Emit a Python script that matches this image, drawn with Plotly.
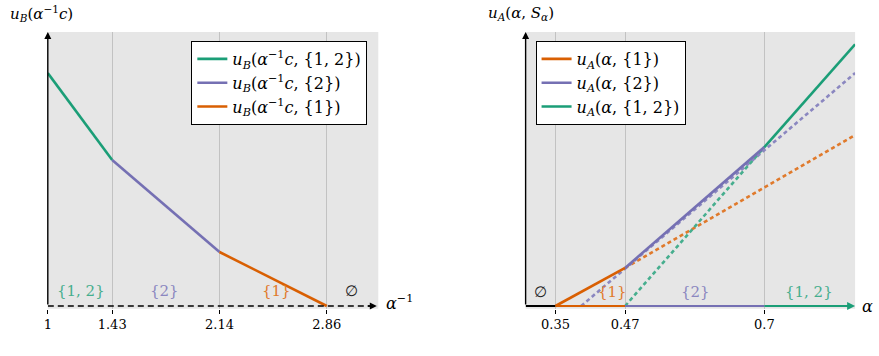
import plotly.graph_objects as go

# ---------------- data ----------------
# Left panel: u_B as a function of alpha^{-1}
left_ticks = [1.0, 1.4286, 2.1429, 2.8571]
left_ticktext = ["1", "1.43", "2.14", "2.86"]
uB12_x = [1.0, 1.4286]
uB12_y = [0.850, 0.533]
uB2_x = [1.4286, 2.1429]
uB2_y = [0.533, 0.197]
uB1_x = [2.1429, 2.8571]
uB1_y = [0.197, 0.0]
left_regions = ["{1, 2}", "{2}", "{1}", "∅"]
left_region_x = [1.22, 1.78, 2.52, 3.02]

# Right panel: u_A as a function of alpha
right_ticks = [0.35, 0.4667, 0.7]
right_ticktext = ["0.35", "0.47", "0.7"]
uA1_solid_x = [0.35, 0.4667]
uA1_solid_y = [0.0, 0.139]
uA1_dash_x = [0.4667, 0.852]
uA1_dash_y = [0.139, 0.624]
uA2_solid_x = [0.4667, 0.7]
uA2_solid_y = [0.139, 0.580]
uA2_dash_x = [0.393, 0.852]
uA2_dash_y = [0.0, 0.850]
uA12_solid_x = [0.7, 0.852]
uA12_solid_y = [0.580, 0.955]
uA12_dash_x = [0.4667, 0.7]
uA12_dash_y = [0.0, 0.580]
right_regions = ["∅", "{1}", "{2}", "{1, 2}"]
right_region_x = [0.325, 0.445, 0.585, 0.775]
# ---------------------------------------

GREEN = "#1b9e77"
PURPLE = "#7570b3"
ORANGE = "#d95f02"
GREEN_T = "#46ae8e"
PURPLE_T = "#8b87c0"
ORANGE_T = "#e07a2c"
FONT = "DejaVu Serif, Liberation Serif, serif"

W, H = 879, 356
def px_x(p):
    return p / W
def px_y(p):
    return (H - p) / H

YMIN = -0.01
fig = go.Figure()

lw = 2.6
# ---- left traces ----
fig.add_trace(go.Scatter(x=uB12_x, y=uB12_y, mode="lines", line=dict(color=GREEN, width=lw),
                         name="<i>u<sub>B</sub></i>(<i>α</i><sup>−1</sup><i>c</i>, {1, 2})",
                         xaxis="x", yaxis="y", legend="legend"))
fig.add_trace(go.Scatter(x=uB2_x, y=uB2_y, mode="lines", line=dict(color=PURPLE, width=lw),
                         name="<i>u<sub>B</sub></i>(<i>α</i><sup>−1</sup><i>c</i>, {2})",
                         xaxis="x", yaxis="y", legend="legend"))
fig.add_trace(go.Scatter(x=uB1_x, y=uB1_y, mode="lines", line=dict(color=ORANGE, width=lw),
                         name="<i>u<sub>B</sub></i>(<i>α</i><sup>−1</sup><i>c</i>, {1})",
                         xaxis="x", yaxis="y", legend="legend"))
# dashed x axis (left)
fig.add_trace(go.Scatter(x=[1.0, 3.17], y=[0, 0], mode="lines",
                         line=dict(color="black", width=1.4, dash="6px,4px"),
                         showlegend=False, hoverinfo="skip", xaxis="x", yaxis="y"))

# ---- right traces ----
dash = "4px,3px"
fig.add_trace(go.Scatter(x=uA1_dash_x, y=uA1_dash_y, mode="lines",
                         line=dict(color=ORANGE_T, width=lw, dash=dash),
                         showlegend=False, xaxis="x2", yaxis="y2"))
fig.add_trace(go.Scatter(x=uA2_dash_x, y=uA2_dash_y, mode="lines",
                         line=dict(color=PURPLE_T, width=lw, dash=dash),
                         showlegend=False, xaxis="x2", yaxis="y2"))
fig.add_trace(go.Scatter(x=uA12_dash_x, y=uA12_dash_y, mode="lines",
                         line=dict(color=GREEN_T, width=lw, dash=dash),
                         showlegend=False, xaxis="x2", yaxis="y2"))
fig.add_trace(go.Scatter(x=uA1_solid_x, y=uA1_solid_y, mode="lines", line=dict(color=ORANGE, width=lw),
                         name="<i>u<sub>A</sub></i>(<i>α</i>, {1})",
                         xaxis="x2", yaxis="y2", legend="legend2"))
fig.add_trace(go.Scatter(x=uA2_solid_x, y=uA2_solid_y, mode="lines", line=dict(color=PURPLE, width=lw),
                         name="<i>u<sub>A</sub></i>(<i>α</i>, {2})",
                         xaxis="x2", yaxis="y2", legend="legend2"))
fig.add_trace(go.Scatter(x=uA12_solid_x, y=uA12_solid_y, mode="lines", line=dict(color=GREEN, width=lw),
                         name="<i>u<sub>A</sub></i>(<i>α</i>, {1, 2})",
                         xaxis="x2", yaxis="y2", legend="legend2"))
# colored x axis (right)
axis_segments = [([0.30, 0.35], "black"), ([0.35, 0.4667], ORANGE),
                 ([0.4667, 0.7], PURPLE), ([0.7, 0.848], GREEN)]
for xs, c in axis_segments:
    fig.add_trace(go.Scatter(x=xs, y=[0, 0], mode="lines", line=dict(color=c, width=2.2),
                             showlegend=False, hoverinfo="skip", xaxis="x2", yaxis="y2"))

# ---- annotations ----
ann = []
# y axis arrows
ann.append(dict(x=1.0, y=1.0, ax=1.0, ay=0.0, xref="x", yref="y", axref="x", ayref="y",
                showarrow=True, arrowhead=2, arrowsize=1, arrowwidth=1.4, arrowcolor="black", text=""))
ann.append(dict(x=0.30, y=1.0, ax=0.30, ay=0.0, xref="x2", yref="y2", axref="x2", ayref="y2",
                showarrow=True, arrowhead=2, arrowsize=1, arrowwidth=1.4, arrowcolor="black", text=""))
# x axis arrowheads
ann.append(dict(x=3.19, y=0, ax=3.12, ay=0, xref="x", yref="y", axref="x", ayref="y",
                showarrow=True, arrowhead=2, arrowsize=1, arrowwidth=1.4, arrowcolor="black", text=""))
ann.append(dict(x=0.852, y=0, ax=0.83, ay=0, xref="x2", yref="y2", axref="x2", ayref="y2",
                showarrow=True, arrowhead=2, arrowsize=1, arrowwidth=1.6, arrowcolor=GREEN, text=""))
# axis labels
ann.append(dict(x=px_x(382), y=px_y(302), xref="paper", yref="paper", xanchor="left", yanchor="middle",
                text="<i>α</i><sup>−1</sup>", showarrow=False, font=dict(family=FONT, size=16, color="black")))
ann.append(dict(x=px_x(860), y=px_y(306), xref="paper", yref="paper", xanchor="left", yanchor="middle",
                text="<i>α</i>", showarrow=False, font=dict(family=FONT, size=16, color="black")))
ann.append(dict(x=px_x(4), y=px_y(14), xref="paper", yref="paper", xanchor="left", yanchor="middle",
                text="<i>u<sub>B</sub></i>(<i>α</i><sup>−1</sup><i>c</i>)", showarrow=False,
                font=dict(family=FONT, size=15, color="black")))
ann.append(dict(x=px_x(484), y=px_y(14), xref="paper", yref="paper", xanchor="left", yanchor="middle",
                text="<i>u<sub>A</sub></i>(<i>α</i>, <i>S<sub>α</sub></i>)", showarrow=False,
                font=dict(family=FONT, size=15, color="black")))
# region labels
left_cols = [GREEN_T, PURPLE_T, ORANGE_T, "#222222"]
for t, x, c in zip(left_regions, left_region_x, left_cols):
    ann.append(dict(x=x, y=0.055, xref="x", yref="y", text=t, showarrow=False,
                    font=dict(family=FONT, size=15, color=c)))
right_cols = ["#222222", ORANGE_T, PURPLE_T, GREEN_T]
for t, x, c in zip(right_regions, right_region_x, right_cols):
    ann.append(dict(x=x, y=0.05, xref="x2", yref="y2", text=t, showarrow=False,
                    font=dict(family=FONT, size=15, color=c)))

y_dom = [px_y(306 + 274 * 0.01), px_y(32)]
axis_common = dict(showline=False, zeroline=False, ticks="outside", ticklen=4, tickwidth=1,
                   tickcolor="black", showgrid=True, gridcolor="#c2c2c2", gridwidth=1,
                   tickfont=dict(family=FONT, size=13, color="black"))
fig.update_layout(
    width=W, height=H, margin=dict(l=0, r=0, t=0, b=0),
    paper_bgcolor="white", plot_bgcolor="#e6e6e6",
    xaxis=dict(domain=[px_x(44), px_x(376)], range=[1.0, 3.2], tickvals=left_ticks,
               ticktext=left_ticktext, anchor="y", **axis_common),
    yaxis=dict(domain=y_dom, range=[YMIN, 1.0], showticklabels=False, showgrid=False,
               zeroline=False, showline=False, ticks="", anchor="x"),
    xaxis2=dict(domain=[px_x(524), px_x(855)], range=[0.30, 0.852], tickvals=right_ticks,
                ticktext=right_ticktext, anchor="y2", **axis_common),
    yaxis2=dict(domain=y_dom, range=[YMIN, 1.0], showticklabels=False, showgrid=False,
                zeroline=False, showline=False, ticks="", anchor="x2"),
    legend=dict(x=px_x(365), y=px_y(41), xanchor="right", yanchor="top",
                bgcolor="white", bordercolor="black", borderwidth=1,
                font=dict(family=FONT, size=16, color="black"), tracegroupgap=0, itemwidth=30),
    legend2=dict(x=px_x(534), y=px_y(41), xanchor="left", yanchor="top",
                 bgcolor="white", bordercolor="black", borderwidth=1,
                 font=dict(family=FONT, size=16, color="black"), tracegroupgap=0, itemwidth=30),
    annotations=ann,
    showlegend=True,
)

fig.write_html("out.html")
